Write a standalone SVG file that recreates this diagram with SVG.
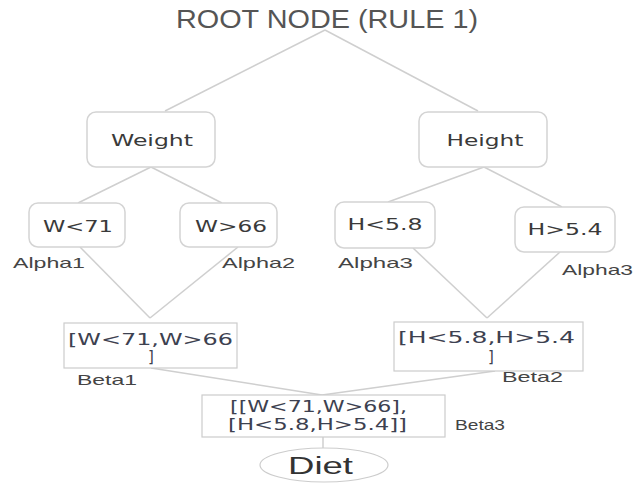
<svg xmlns="http://www.w3.org/2000/svg" width="634" height="483" viewBox="0 0 634 483">
<style>
  .edge { stroke: #cfcfcf; stroke-width: 1.5; fill: none; }
  .rbox { fill: #ffffff; stroke: #d4d4d4; stroke-width: 1.5; }
  .sbox { fill: #ffffff; stroke: #cccccc; stroke-width: 1.2; }
  .t { font-family: "Liberation Sans", Arial, sans-serif; fill: #3a3a3a; }
  .v { font-family: "DejaVu Sans", Verdana, sans-serif; }
  .n { font-size: 15px; text-anchor: middle; }
  .lab { font-size: 15px; fill: #444444; }
  .b { font-size: 15px; fill: #3d4150; }
</style>
<rect width="634" height="483" fill="#ffffff"/>
<g id="connectors">
  <line class="edge" x1="325" y1="30" x2="165" y2="111"/>
  <line class="edge" x1="325" y1="30" x2="478" y2="111"/>
  <line class="edge" x1="151" y1="167" x2="78" y2="203"/>
  <line class="edge" x1="151" y1="167" x2="222" y2="203"/>
  <line class="edge" x1="484" y1="167" x2="388" y2="202"/>
  <line class="edge" x1="484" y1="167" x2="562" y2="207"/>
  <line class="edge" x1="80" y1="247" x2="150" y2="318"/>
  <line class="edge" x1="238" y1="247" x2="150" y2="318"/>
  <line class="edge" x1="413" y1="248" x2="487" y2="318"/>
  <line class="edge" x1="560" y1="252" x2="487" y2="318"/>
  <line class="edge" x1="151" y1="368" x2="322" y2="395"/>
  <line class="edge" x1="495" y1="371" x2="322" y2="395"/>
  <line class="edge" x1="323" y1="437" x2="323" y2="448"/>
</g>
<g id="root">
  <text class="t" x="176" y="28" font-size="26" textLength="302" lengthAdjust="spacingAndGlyphs" style="fill:#555555">ROOT NODE (RULE 1)</text>
</g>
<g id="weight">
  <rect class="rbox" x="87" y="112" width="128" height="55" rx="9"/>
  <text class="t v n" x="152" y="146" textLength="82" lengthAdjust="spacingAndGlyphs">Weight</text>
</g>
<g id="height">
  <rect class="rbox" x="419" y="112" width="128" height="55" rx="9"/>
  <text class="t v n" x="485" y="146" textLength="77" lengthAdjust="spacingAndGlyphs">Height</text>
</g>
<g id="w71">
  <rect class="rbox" x="29" y="203" width="96" height="44" rx="9"/>
  <text class="t v n" x="78" y="232" textLength="70" lengthAdjust="spacingAndGlyphs">W&lt;71</text>
  <text class="t lab" x="13" y="268" textLength="72" lengthAdjust="spacingAndGlyphs">Alpha1</text>
</g>
<g id="w66">
  <rect class="rbox" x="180" y="203" width="97" height="44" rx="9"/>
  <text class="t v n" x="231" y="232" textLength="72" lengthAdjust="spacingAndGlyphs">W&gt;66</text>
  <text class="t lab" x="222" y="268" textLength="73" lengthAdjust="spacingAndGlyphs">Alpha2</text>
</g>
<g id="h58">
  <rect class="rbox" x="335" y="202" width="100" height="46" rx="9"/>
  <text class="t v n" x="385" y="230" textLength="75" lengthAdjust="spacingAndGlyphs">H&lt;5.8</text>
  <text class="t lab" x="338" y="268" textLength="75" lengthAdjust="spacingAndGlyphs">Alpha3</text>
</g>
<g id="h54">
  <rect class="rbox" x="515" y="207" width="100" height="45" rx="9"/>
  <text class="t v n" x="565" y="235" textLength="75" lengthAdjust="spacingAndGlyphs">H&gt;5.4</text>
  <text class="t lab" x="562" y="275" textLength="71" lengthAdjust="spacingAndGlyphs">Alpha3</text>
</g>
<g id="beta1">
  <rect class="sbox" x="64" y="323" width="173" height="45"/>
  <text class="t v b" x="68" y="345" textLength="165" lengthAdjust="spacingAndGlyphs">[W&lt;71,W&gt;66</text>
  <text class="t v b" x="151" y="362" text-anchor="middle">]</text>
  <text class="t lab" x="77" y="385" textLength="60" lengthAdjust="spacingAndGlyphs">Beta1</text>
</g>
<g id="beta2">
  <rect class="sbox" x="394" y="322" width="189" height="49"/>
  <text class="t v b" x="398" y="343" textLength="177" lengthAdjust="spacingAndGlyphs">[H&lt;5.8,H&gt;5.4</text>
  <text class="t v b" x="491" y="362" text-anchor="middle">]</text>
  <text class="t lab" x="502" y="382" textLength="61" lengthAdjust="spacingAndGlyphs">Beta2</text>
</g>
<g id="beta3">
  <rect class="sbox" x="202" y="395" width="243" height="42"/>
  <text class="t v b" x="230" y="412" textLength="177" lengthAdjust="spacingAndGlyphs">[[W&lt;71,W&gt;66],</text>
  <text class="t v b" x="228" y="430" textLength="179" lengthAdjust="spacingAndGlyphs">[H&lt;5.8,H&gt;5.4]]</text>
  <text class="t lab" x="455" y="430" textLength="50" lengthAdjust="spacingAndGlyphs">Beta3</text>
</g>
<g id="diet">
  <ellipse cx="324" cy="465" rx="64" ry="17" fill="#ffffff" stroke="#cccccc" stroke-width="1.2"/>
  <text class="t" x="320.5" y="474" font-size="23" text-anchor="middle" textLength="65" lengthAdjust="spacingAndGlyphs" style="fill:#333333">Diet</text>
</g>
</svg>
